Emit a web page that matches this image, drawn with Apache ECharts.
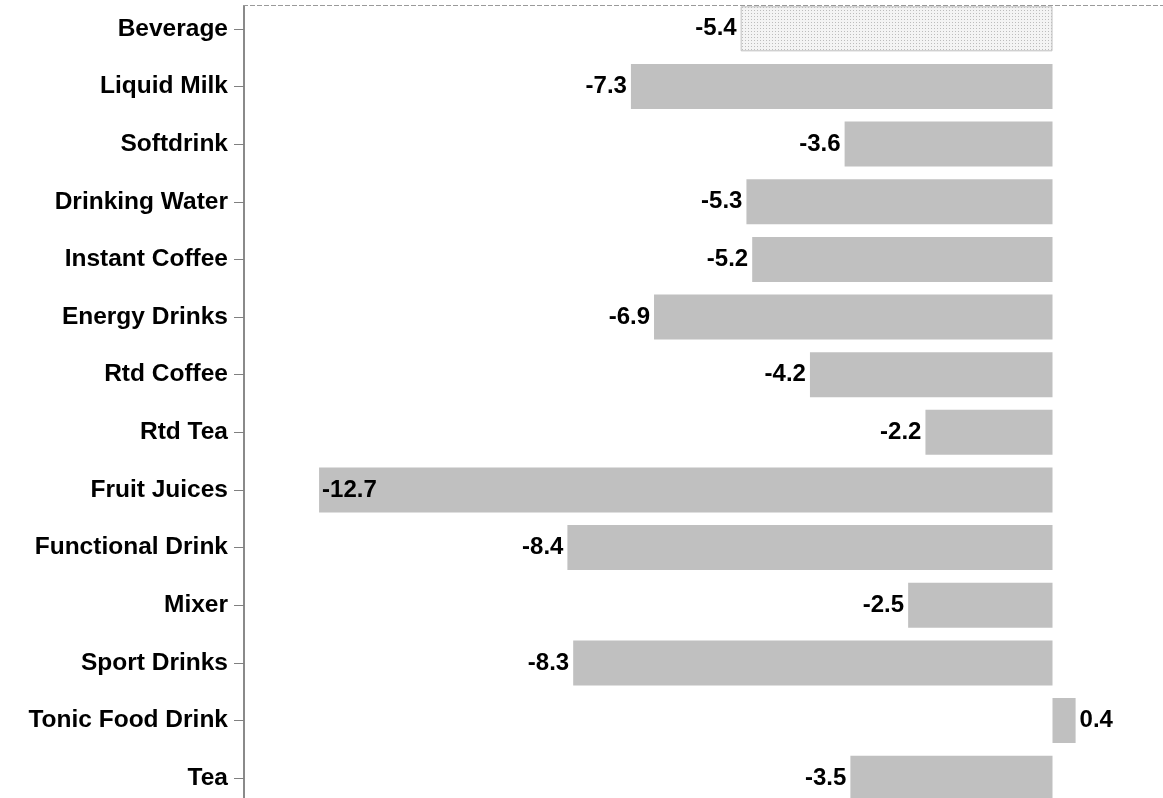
<!DOCTYPE html>
<html>
<head>
<meta charset="utf-8">
<style>
  html, body { margin: 0; padding: 0; background: #ffffff; overflow: hidden; }
  #chart { width: 1168px; height: 807px; }
</style>
<script src="https://cdn.jsdelivr.net/npm/echarts@6/dist/echarts.min.js"></script>
</head>
<body>
<div id="chart"></div>
<script>
// Growth by beverage category (%)
const categories = [
  'Beverage', 'Liquid Milk', 'Softdrink', 'Drinking Water', 'Instant Coffee',
  'Energy Drinks', 'Rtd Coffee', 'Rtd Tea', 'Fruit Juices', 'Functional Drink',
  'Mixer', 'Sport Drinks', 'Tonic Food Drink', 'Tea'
];
const values = [-5.4, -7.3, -3.6, -5.3, -5.2, -6.9, -4.2, -2.2, -12.7, -8.4, -2.5, -8.3, 0.4, -3.5];
const totalCategory = 'Beverage';

// Dotted fill for the total bar
function dotPattern() {
  const c = document.createElement('canvas');
  c.width = 3; c.height = 3;
  const ctx = c.getContext('2d');
  ctx.fillStyle = '#f4f4f4';
  ctx.fillRect(0, 0, 3, 3);
  ctx.fillStyle = '#bdbdbd';
  ctx.fillRect(1, 1, 1, 1);
  return c;
}

const FONT = 'Arial, "Liberation Sans", sans-serif';

const barData = values.map((v, i) => {
  const item = { value: v };
  if (categories[i] === totalCategory) {
    item.itemStyle = {
      color: { image: dotPattern(), repeat: 'repeat' },
      borderColor: '#bfbfbf',
      borderWidth: 1
    };
  }
  if (v >= 0) {
    item.label = { position: 'right', distance: 4 };
  } else if (v < -12) {
    item.label = { position: 'insideLeft', distance: 3 };
  }
  return item;
});

const chart = echarts.init(document.getElementById('chart'), null, { renderer: 'canvas' });
chart.setOption({
  animation: false,
  grid: { left: 244, right: 0, top: 0, bottom: 0, containLabel: false },
  xAxis: {
    type: 'value',
    min: -14,
    max: 2,
    show: false
  },
  yAxis: {
    type: 'category',
    data: categories,
    inverse: true,
    axisLine: { show: true, onZero: false, lineStyle: { color: '#8a8a8a', width: 2 } },
    axisTick: { show: true, length: 10, alignWithLabel: true, lineStyle: { color: '#808080', width: 1 } },
    axisLabel: {
      margin: 16,
      color: '#000000',
      fontFamily: FONT,
      fontWeight: 'bold',
      fontSize: 24.5
    },
    splitLine: { show: false }
  },
  series: [{
    type: 'bar',
    data: barData,
    barWidth: 45,
    itemStyle: { color: '#c0c0c0' },
    label: {
      show: true,
      position: 'left',
      distance: 4,
      color: '#000000',
      fontFamily: FONT,
      fontWeight: 'bold',
      fontSize: 24,
      formatter: p => p.value.toFixed(1)
    }
  }],
  graphic: [
    {
      // frame top: axis starts at the dashed border
      type: 'rect',
      shape: { x: 240, y: 0, width: 8, height: 5 },
      style: { fill: '#ffffff' },
      z: 20
    },
    {
      type: 'line',
      shape: { x1: 243, y1: 5.5, x2: 1168, y2: 5.5 },
      style: { stroke: '#9a9a9a', lineWidth: 1, lineDash: [5, 2] },
      z: 21
    }
  ]
});
</script>
</body>
</html>
